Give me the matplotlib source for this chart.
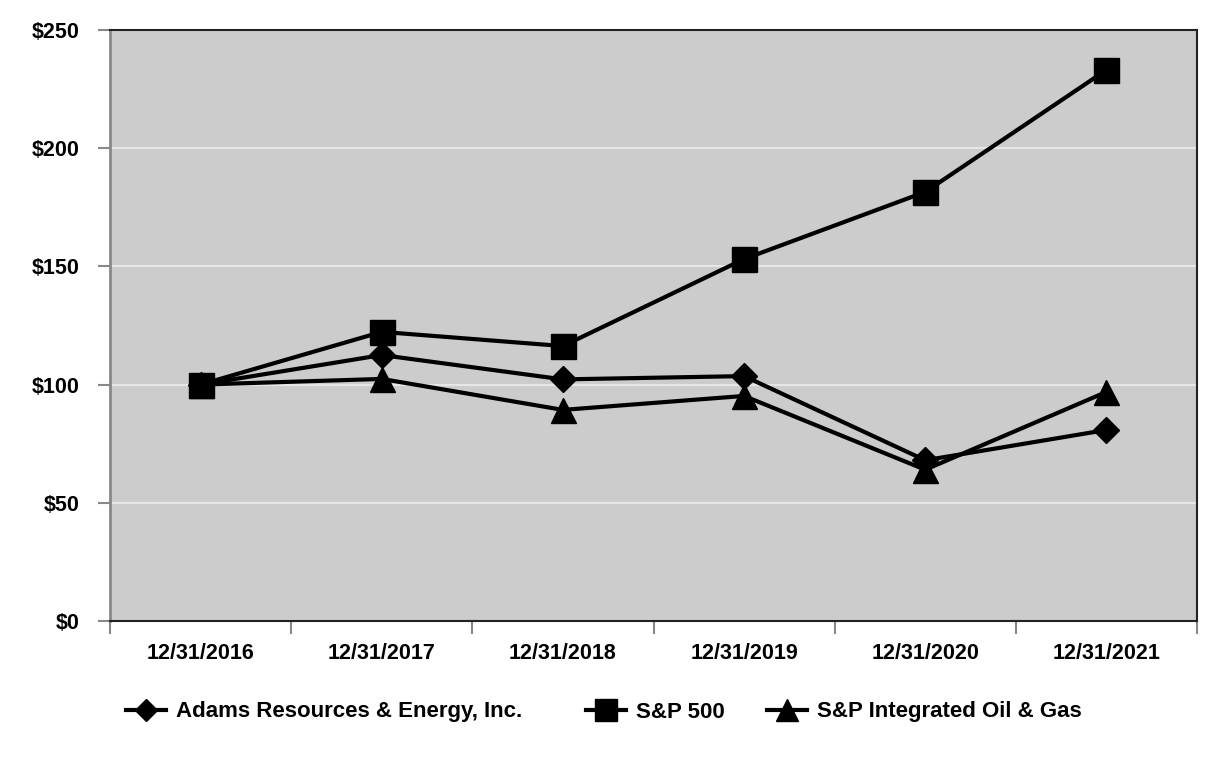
"""
Five-year cumulative total return: Adams Resources vs S&P 500 vs S&P Integrated Oil & Gas
"""

import matplotlib.pyplot as plt
from matplotlib.ticker import FuncFormatter, FixedLocator

plt.rcParams['font.family'] = ['Liberation Sans', 'DejaVu Sans']
plt.rcParams['font.weight'] = 'bold'

# Data
dates = ['12/31/2016', '12/31/2017', '12/31/2018', '12/31/2019', '12/31/2020', '12/31/2021']
adams = [100.0, 112.5, 102.2, 103.6, 68.0, 80.8]
sp500 = [100.0, 122.3, 116.3, 153.1, 181.5, 233.1]
oil_gas = [100.0, 102.4, 89.3, 95.2, 64.0, 96.9]
series_names = ['Adams Resources & Energy, Inc.', 'S&P 500', 'S&P Integrated Oil & Gas']

W, H = 1226, 760
fig = plt.figure(figsize=(W / 100, H / 100), dpi=100)
ax = fig.add_axes([110 / W, 1 - 621 / H, (1197 - 110) / W, (621 - 30) / H])
ax.set_facecolor('#cccccc')

x = range(len(dates))
l1, = ax.plot(x, adams, color='black', lw=3, marker='D', ms=13, label=series_names[0], zorder=3)
l2, = ax.plot(x, sp500, color='black', lw=3, marker='s', ms=18, label=series_names[1], zorder=3)
l3, = ax.plot(x, oil_gas, color='black', lw=3, marker='^', ms=18, label=series_names[2], zorder=3)

ax.set_xlim(-0.5, len(dates) - 0.5)
ax.set_ylim(0, 250)
ax.set_yticks([0, 50, 100, 150, 200, 250])
ax.yaxis.set_major_formatter(FuncFormatter(lambda v, p: f'${v:.0f}'))
ax.grid(axis='y', color='#e6e6e6', lw=1.5, zorder=1)

# category labels centred, tick marks between categories
ax.set_xticks(list(x))
ax.set_xticklabels(dates, fontsize=15.5, fontweight='bold')
ax.tick_params(axis='x', length=0, pad=16)
ax.xaxis.set_minor_locator(FixedLocator([i - 0.5 for i in range(len(dates) + 1)]))
ax.tick_params(axis='x', which='minor', length=9, color='#888888', width=1.5)
ax.tick_params(axis='y', length=9, color='#888888', width=1.5, labelsize=15.5, pad=13)
for lbl in ax.get_yticklabels():
    lbl.set_fontweight('bold')

ax.spines['left'].set_color('#888888')
ax.spines['left'].set_linewidth(2)
for s in ['top', 'right', 'bottom']:
    ax.spines[s].set_color('#222222')
    ax.spines[s].set_linewidth(1.5)

# legend entries are spaced unevenly in the original, so place each one separately
for handle, name, left in zip([l1, l2, l3], series_names, [126, 586, 767]):
    leg = fig.legend([handle], [name], loc='center left', bbox_to_anchor=(left / W, 1 - 712 / H),
                     frameon=False, prop={'size': 16, 'weight': 'bold'}, handlelength=1.8,
                     handletextpad=0.45, borderpad=0, borderaxespad=0, markerscale=0.85)

fig.savefig('out.png', dpi=100)
